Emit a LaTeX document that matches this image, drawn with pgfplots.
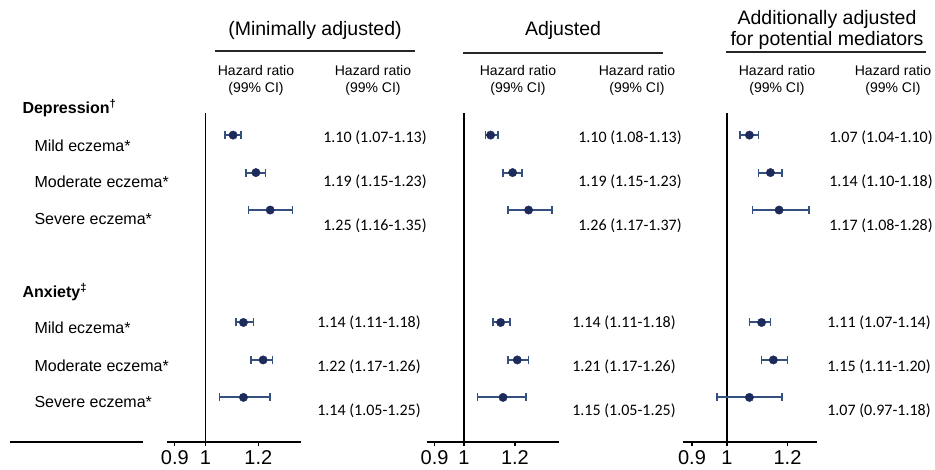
\documentclass[border=0pt]{standalone}
\usepackage{fontspec}
\setmainfont{Liberation Sans}
\newfontfamily\calib{Carlito}
\usepackage{pgfplots}
\usepackage{pgfplotstable}
\pgfplotsset{compat=1.18}

\definecolor{dotc}{HTML}{1C2B5A}
\definecolor{barc}{HTML}{34507F}
\newcommand\fs[1]{\fontsize{#1}{#1}\selectfont}

% row: 1-3 depression, 6-8 anxiety (mild, moderate, severe)
\pgfplotstableread{
row hr lo hi
1 1.10 1.07 1.13
2 1.19 1.15 1.23
3 1.25 1.16 1.35
6 1.14 1.11 1.18
7 1.22 1.17 1.26
8 1.14 1.05 1.25
}\minimal
\pgfplotstableread{
row hr lo hi
1 1.10 1.08 1.13
2 1.19 1.15 1.23
3 1.26 1.17 1.37
6 1.14 1.11 1.18
7 1.21 1.17 1.26
8 1.15 1.05 1.25
}\adjusted
\pgfplotstableread{
row hr lo hi
1 1.07 1.04 1.10
2 1.14 1.10 1.18
3 1.17 1.08 1.28
6 1.11 1.07 1.14
7 1.15 1.11 1.20
8 1.07 0.97 1.18
}\mediators

% log scale done by hand: x = ln(HR)
\pgfplotsset{every axis/.append style={
    scale only axis, height=329pt,
    xmin=-0.1324,
    ymin=-9.19, ymax=-0.41,
    axis x line*=bottom, axis y line=none,
    axis line style={black, line width=1.5pt, -},
    xtick={-0.10536,0,0.18232}, xticklabels={0.9,1,1.2},
    ytick=\empty,
    tick align=outside, major tick length=4pt,
    tick style={black, line width=1.2pt},
    xticklabel style={font=\fs{20}, yshift=-1pt},
    clip=false,
}}

\newcommand\ciplot[1]{%
  \addplot[black, line width=1.6pt] coordinates {(0,-0.41) (0,-9.19)};
  \addplot[only marks, mark=*, mark size=4.2pt, color=dotc,
    error bars/x dir=both, error bars/x explicit,
    error bars/error bar style={barc, line width=2pt},
    error bars/error mark options={barc, line width=1.7pt, mark size=4pt, rotate=90}]
    table[x expr=ln(\thisrow{hr}), y expr=-\thisrow{row},
    x error plus expr=ln(\thisrow{hi})-ln(\thisrow{hr}),
    x error minus expr=ln(\thisrow{hr})-ln(\thisrow{lo})] {#1};
}

\begin{document}
\begin{tikzpicture}
\path[use as bounding box] (0pt,0pt) rectangle (935pt,-470pt);

\begin{axis}[width=134pt, xmax=0.3293, at={(167pt,-442pt)}, anchor=south west]
\ciplot{\minimal}
\end{axis}
\begin{axis}[width=132pt, xmax=0.3400, at={(427pt,-442pt)}, anchor=south west]
\ciplot{\adjusted}
\end{axis}
\begin{axis}[width=134pt, xmax=0.2712, at={(683pt,-442pt)}, anchor=south west]
\ciplot{\mediators}
\end{axis}

\begin{scope}[x=1pt, y=-1pt]
% panel titles
\node[anchor=base, font=\fs{19.5}] at (315,36) {(Minimally adjusted)};
\node[anchor=base, font=\fs{19.5}] at (563,36) {Adjusted};
\node[anchor=base, font=\fs{19.5}] at (827,25) {Additionally adjusted};
\node[anchor=base, font=\fs{19.5}] at (827,46) {for potential mediators};
\draw[black!85, line width=1.5pt] (215,51) -- (415,51);
\draw[black!85, line width=1.5pt] (463,53) -- (663,53);
\draw[black!85, line width=1.5pt] (726,52) -- (926,52);

% column headers
\foreach \cx in {256,373,518,637,777,893} {
  \node[anchor=base, font=\fs{14}] at (\cx,76) {Hazard ratio};
  \node[anchor=base, font=\fs{14}] at (\cx,93) {(99\% CI)};
}

% row labels
\node[anchor=base west, font=\fs{16}\bfseries] at (19,114) {Depression\textsuperscript{†}};
\node[anchor=base west, font=\fs{16}] at (31,152) {Mild eczema*};
\node[anchor=base west, font=\fs{16}] at (31,188) {Moderate eczema*};
\node[anchor=base west, font=\fs{16}] at (31,225) {Severe eczema*};
\node[anchor=base west, font=\fs{16}\bfseries] at (19,298) {Anxiety\textsuperscript{‡}};
\node[anchor=base west, font=\fs{16}] at (31,334) {Mild eczema*};
\node[anchor=base west, font=\fs{16}] at (31,372) {Moderate eczema*};
\node[anchor=base west, font=\fs{16}] at (31,408) {Severe eczema*};
\draw[black, line width=1.5pt] (10,442) -- (143,442);

% hazard ratio texts
\begin{scope}[every node/.style={anchor=base, font=\calib\fs{16}}]
\node at (375,143) {1.10 (1.07-1.13)};
\node at (375,187) {1.19 (1.15-1.23)};
\node at (375,231) {1.25 (1.16-1.35)};
\node at (369,328) {1.14 (1.11-1.18)};
\node at (369,372) {1.22 (1.17-1.26)};
\node at (369,416) {1.14 (1.05-1.25)};
\node at (630,143) {1.10 (1.08-1.13)};
\node at (630,187) {1.19 (1.15-1.23)};
\node at (630,231) {1.26 (1.17-1.37)};
\node at (624,328) {1.14 (1.11-1.18)};
\node at (624,372) {1.21 (1.17-1.26)};
\node at (624,416) {1.15 (1.05-1.25)};
\node at (881,143) {1.07 (1.04-1.10)};
\node at (881,187) {1.14 (1.10-1.18)};
\node at (881,231) {1.17 (1.08-1.28)};
\node at (879,328) {1.11 (1.07-1.14)};
\node at (879,372) {1.15 (1.11-1.20)};
\node at (879,416) {1.07 (0.97-1.18)};
\end{scope}
\end{scope}
\end{tikzpicture}
\end{document}
